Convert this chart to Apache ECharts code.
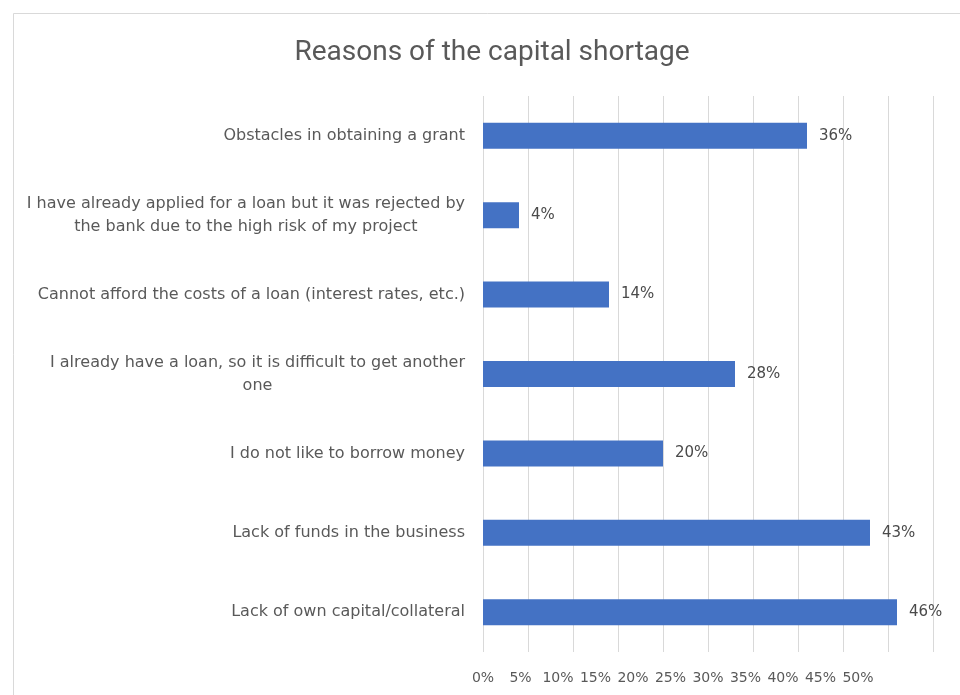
<!DOCTYPE html>
<html>
<head>
<meta charset="utf-8">
<script src="https://cdn.jsdelivr.net/npm/echarts@6/dist/echarts.min.js"></script>
<style>
html,body{margin:0;padding:0;background:#fff;}
#main{width:960px;height:695px;}
</style>
</head>
<body>
<div id="main"></div>
<script>
const titleText = 'Reasons of the capital shortage';
const categories = [
  'Obstacles in obtaining a grant',
  'I have already applied for a loan but it was rejected by\nthe bank due to the high risk of my project',
  'Cannot afford the costs of a loan (interest rates, etc.)',
  'I already have a loan, so it is difficult to get another\none',
  'I do not like to borrow money',
  'Lack of funds in the business',
  'Lack of own capital/collateral'
];
const values = [0.36, 0.04, 0.14, 0.28, 0.20, 0.43, 0.46];
const tickLabels = ['0%','5%','10%','15%','20%','25%','30%','35%','40%','45%','50%'];

const FONT = 'DejaVu Sans';
const TXT = '#595959';

const chart = echarts.init(document.getElementById('main'));
chart.setOption({
  animation: false,
  backgroundColor: '#fff',
  title: {
    text: titleText,
    left: 487, textAlign: 'center',
    top: 34,
    textStyle: { fontFamily: 'Roboto', fontWeight: 'normal', fontSize: 28, color: TXT }
  },
  graphic: [{
    type: 'rect', silent: true, z: -1,
    shape: { x: 13.5, y: 13.5, width: 980, height: 720 },
    style: { fill: 'none', stroke: '#d9d9d9', lineWidth: 1 }
  }],
  grid: [
    { left: 483, right: 27, top: 96, bottom: 43 },
    { left: 483, right: 102, top: 96, bottom: 43 }
  ],
  xAxis: [
    {
      type: 'value', gridIndex: 0, min: 0, max: 0.5, interval: 0.05,
      axisLine: { show: false }, axisTick: { show: false },
      axisLabel: { show: false },
      splitLine: { show: true, lineStyle: { color: '#d9d9d9', width: 1 } }
    },
    {
      type: 'value', gridIndex: 1, min: 0, max: 0.5, interval: 0.05,
      axisLine: { show: false }, axisTick: { show: false },
      splitLine: { show: false },
      axisLabel: {
        margin: 19, fontFamily: FONT, fontSize: 14, color: TXT,
        formatter: function (v) { return tickLabels[Math.round(v / 0.05)]; }
      }
    }
  ],
  yAxis: [
    {
      type: 'category', gridIndex: 0, data: categories, inverse: true,
      axisLine: { show: false }, axisTick: { show: false },
      axisLabel: {
        margin: 18, fontFamily: FONT, fontSize: 16, color: TXT, lineHeight: 23,
        formatter: function (v) {
          return v.split('\n').map(function (s) { return '{c|' + s + '}'; }).join('\n');
        },
        rich: { c: { align: 'center', fontFamily: FONT, fontSize: 16, color: TXT, lineHeight: 23 } }
      }
    },
    {
      type: 'category', gridIndex: 1, data: categories, inverse: true, show: false
    }
  ],
  series: [{
    type: 'bar',
    xAxisIndex: 0, yAxisIndex: 0,
    data: values,
    barWidth: 26,
    itemStyle: { color: '#4472C4' },
    label: {
      show: true, position: 'right', distance: 12,
      fontFamily: FONT, fontSize: 15, color: '#4a4a4a',
      formatter: function (p) { return Math.round(p.value * 100) + '%'; }
    }
  }]
});
</script>
</body>
</html>
